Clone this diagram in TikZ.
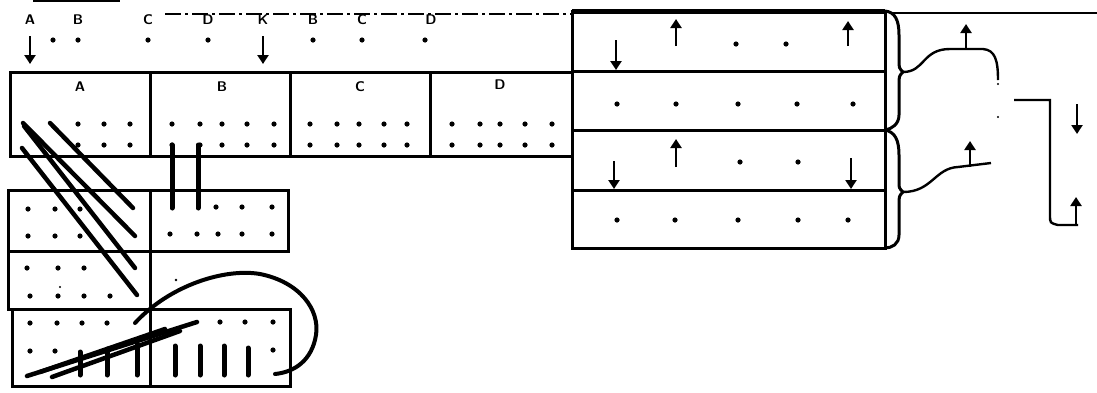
\documentclass[tikz,border=0pt]{standalone}
\usetikzlibrary{arrows.meta}
\begin{document}
\begin{tikzpicture}[x=1pt,y=-1pt,
  cell/.style={draw, line width=3pt, minimum width=#1, inner sep=0pt, outer sep=0pt, anchor=north west},
  lbl/.style={font=\sffamily\bfseries\fontsize{14}{15}\selectfont, inner sep=0pt},
  arr/.style={line width=2.8pt, -{Triangle[width=11pt,length=9pt]}},
  hatch/.style={line width=4.5pt, line cap=round},
  stick/.style={line width=5pt, line cap=round},
  conn/.style={line width=2.4pt}]
\useasboundingbox (0,0) rectangle (1097,392);
\fill[white] (0,0) rectangle (1097,392);
% top lines
\coordinate (tl1) at (33,1); \coordinate (tl2) at (120,1);
\draw[line width=2.4pt] (tl1) -- (tl2);
\coordinate (dd1) at (165,14); \coordinate (dd2) at (572,14);
\draw[line width=2.2pt, dash pattern=on 16pt off 4pt on 3pt off 4pt] (dd1) -- (dd2);
\coordinate (rl1) at (890,13); \coordinate (rl2) at (1097,13);
\draw[line width=2pt] (rl1) -- (rl2);
% top letters
\foreach \x/\t/\n in {30/A/a,78/B/b,148/C/c,208/D/d,263/K/k,313/B/e,362/C/f,431/D/g}
  \node[lbl] (top\n) at (\x,20) {\t};
\foreach \x in {53,78,148,208,313,362,425} \fill (\x,40) circle (2.6);
\coordinate (ta1) at (30,36); \coordinate (ta2) at (30,64);
\draw[arr] (ta1) -- (ta2);
\coordinate (tk1) at (263,36); \coordinate (tk2) at (263,64);
\draw[arr] (tk1) -- (tk2);
% main row
\node[cell=140pt, minimum height=84pt] (A) at (10,72) {};
\node[cell=140pt, minimum height=84pt] (B) at (150,72) {};
\node[cell=140pt, minimum height=84pt] (C) at (290,72) {};
\node[cell=142pt, minimum height=84pt] (D) at (430,72) {};
\node[lbl] (lA) at (80,87) {A};
\node[lbl] (lB) at (222,87) {B};
\node[lbl] (lC) at (360,87) {C};
\node[lbl] (lD) at (500,85) {D};
\foreach \y in {124,145}{
  \foreach \x in {78,104,130,172,200,222,247,274,310,337,359,384,407,452,480,500,525,552}
    \fill (\x,\y) circle (2.6);
}
% right block
\node[cell=313pt, minimum height=60pt] (R1) at (572,11) {};
\node[cell=313pt, minimum height=59pt] (R2) at (572,71) {};
\node[cell=313pt, minimum height=60pt] (R3) at (572,130) {};
\node[cell=313pt, minimum height=58pt] (R4) at (572,190) {};
\draw[line width=5pt] (R1.north west) -- (R1.north east);
\foreach \x/\y in {736/44,786/44,740/162,798/162,617/104,676/104,738/104,797/104,853/104,617/220,675/220,738/220,798/220,848/220}
  \fill (\x,\y) circle (2.6);
\draw[arr] (616,40) -- (616,70);
\draw[arr] (676,46) -- (676,19);
\draw[arr] (848,46) -- (848,21);
\draw[arr] (614,161) -- (614,189);
\draw[arr] (676,167) -- (676,139);
\draw[arr] (851,158) -- (851,189);
% braces
\coordinate (b1t) at (903,72);
\coordinate (b2t) at (903,192);
\draw[line width=3pt] (R1.north east) .. controls (895,12) and (899,20) .. (899,35) -- (899,60) .. controls (899,68) .. (b1t)
  .. controls (899,76) .. (899,85) -- (899,115) .. controls (899,124) and (892,129) .. (R3.north east);
\draw[line width=3pt] (R3.north east) .. controls (895,132) and (899,140) .. (899,155) -- (899,182) .. controls (899,188) .. (b2t)
  .. controls (899,196) .. (899,205) -- (899,235) .. controls (899,244) and (892,248) .. (R4.south east);
\coordinate (c1e) at (998,80);
\draw[conn] (b1t) .. controls (925,72) and (922,49) .. (950,49) -- (983,49) .. controls (995,50) and (998,60) .. (c1e);
\coordinate (c2e) at (991,163);
\draw[conn] (b2t) .. controls (932,192) and (935,168) .. (958,167) -- (c2e);
\fill (998,84) circle (1.1); \fill (998,117) circle (1.1);
\draw[arr] (966,49) -- (966,24);
\draw[arr] (970,167) -- (970,141);
\coordinate (k1) at (1014,100); \coordinate (k2) at (1078,225);
\draw[conn] (k1) -- (1050,100) -- (1050,215) .. controls (1050,223) .. (1058,225) -- (k2);
\draw[arr] (1077,104) -- (1077,134);
\draw[arr] (1076,226) -- (1076,197);
% lower grid
\node[cell=142pt, minimum height=61pt] (L1) at (8,190) {};
\node[cell=138pt, minimum height=61pt] (L2) at (150,190) {};
\node[cell=142pt, minimum height=58pt] (L3) at (8,251) {};
\node[cell=138pt, minimum height=77pt] (L4) at (12,309) {};
\node[cell=140pt, minimum height=77pt] (L5) at (150,309) {};
\foreach \x/\y in {28/209,55/209,80/209,28/236,55/236,80/236,216/207,242/207,272/207,170/234,197/234,218/234,242/234,272/234,
  27/268,58/268,84/268,30/296,58/296,84/296,110/296,30/323,57/323,82/323,107/323,220/322,245/322,273/322,30/351,55/351,273/350}
  \fill (\x,\y) circle (2.6);
\fill (60,287) circle (1.1); \fill (176,280) circle (1.3);
% bars from B down
\draw[stick] (172,145) -- (172,208);
\draw[stick] (198,145) -- (198,208);
% hatch
\draw[hatch] (50,123) -- (133,208);
\draw[hatch] (23,123) -- (135,236);
\draw[hatch] (24,126) -- (135,268);
\draw[hatch] (22,148) -- (137,295);
% sticks
\foreach \x/\a in {80/352,107/349,137/344,175/346,200/346,224/346,248/348}
  \draw[stick] (\x,\a) -- (\x,375);
% fan
\draw[hatch] (27,376) -- (197,322);
\draw[hatch] (52,377) -- (180,331);
\draw[hatch] (40,372) -- (165,329);
% loop
\draw[line width=4pt, line cap=round] (135,323) .. controls (170,285) and (225,268) .. (260,274)
  .. controls (300,282) and (320,310) .. (316,335) .. controls (312,360) and (295,372) .. (275,374);
\end{tikzpicture}
\end{document}
